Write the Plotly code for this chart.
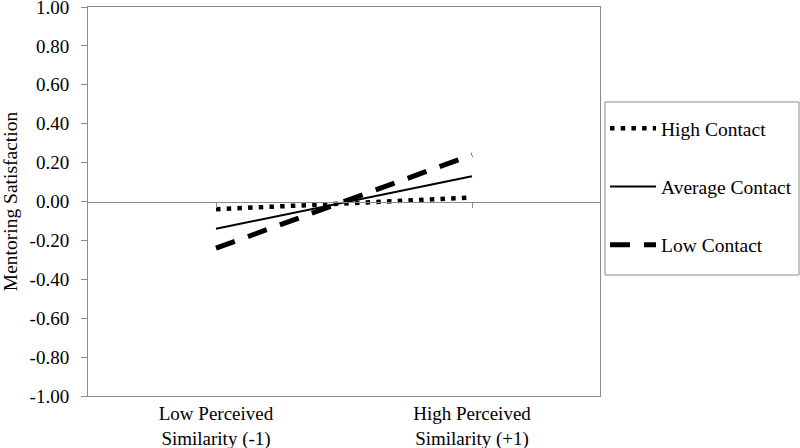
import plotly.graph_objects as go

categories = ["Low Perceived<br>Similarity (-1)", "High Perceived<br>Similarity (+1)"]
x_pos = [0, 1]
series_names = ["High Contact", "Average Contact", "Low Contact"]
high_contact = [-0.04, 0.02]
average_contact = [-0.14, 0.13]
low_contact = [-0.24, 0.24]
y_tick_vals = [1.0, 0.8, 0.6, 0.4, 0.2, 0.0, -0.2, -0.4, -0.6, -0.8, -1.0]
y_tick_text = ["1.00", "0.80", "0.60", "0.40", "0.20", "0.00", "-0.20", "-0.40", "-0.60", "-0.80", "-1.00"]

FONT = "Liberation Serif, Times New Roman, serif"
FS = 19.5
GRAY = "#8c8c8c"

fig = go.Figure()
styles = [
    dict(color="black", width=4.5, dash="4.5px,6.2px"),
    dict(color="black", width=2),
    dict(color="black", width=5, dash="20px,14px"),
]
for i, (name, vals) in enumerate(zip(series_names, [high_contact, average_contact, low_contact])):
    fig.add_trace(go.Scatter(x=x_pos, y=vals, mode="lines", name=name,
                             line=styles[i], legendgroup=name, hoverinfo="skip"))

# invisible trace to carry the zero-crossing axis with tick marks
fig.add_trace(go.Scatter(x=x_pos, y=[0, 0], mode="lines", xaxis="x2", yaxis="y",
                         line=dict(width=0), showlegend=False, hoverinfo="skip", opacity=0))

# legend frame
fig.add_shape(type="rect", xref="paper", yref="paper",
              x0=1.0098, x1=1.3887, y0=0.311, y1=0.7558,
              line=dict(color=GRAY, width=1), fillcolor="rgba(0,0,0,0)", layer="below")

fig.update_layout(
    width=800, height=448,
    margin=dict(l=88, r=200, t=7, b=52, autoexpand=False),
    paper_bgcolor="white", plot_bgcolor="white",
    font=dict(family=FONT, size=FS, color="black"),
    showlegend=True,
    legend=dict(x=1.0098, y=0.7378, xanchor="left", yanchor="top",
                borderwidth=0, bgcolor="rgba(0,0,0,0)",
                font=dict(family=FONT, size=FS, color="black"),
                tracegroupgap=30, itemwidth=46),
    xaxis=dict(range=[-0.5, 1.5], tickvals=x_pos, ticktext=categories,
               showline=True, linecolor=GRAY, linewidth=1, mirror=True,
               showgrid=False, zeroline=False, ticks="", ticklabelstandoff=0,
               automargin=False, ticklabeloverflow="allow",
               tickfont=dict(family=FONT, size=19, color="black")),
    xaxis2=dict(range=[-0.5, 1.5], overlaying="x", anchor="free", position=0.5,
                tickvals=x_pos, showticklabels=False, ticks="outside", ticklen=5,
                tickcolor=GRAY, showline=True, linecolor=GRAY, linewidth=1,
                showgrid=False, zeroline=False, automargin=False),
    yaxis=dict(range=[-1, 1], tickvals=y_tick_vals, ticktext=y_tick_text,
               showline=True, linecolor=GRAY, linewidth=1, mirror=True,
               ticks="outside", ticklen=6, tickcolor=GRAY, ticklabelstandoff=8,
               ticklabeloverflow="allow",
               showgrid=False, zeroline=False, domain=[0, 1], automargin=False,
               title=dict(text="Mentoring Satisfaction", standoff=6,
                          font=dict(family=FONT, size=FS, color="black")),
               tickfont=dict(family=FONT, size=19, color="black")),
)

fig.write_html("out.html", config={"displayModeBar": False},
               post_script="document.body.style.margin='0';")
